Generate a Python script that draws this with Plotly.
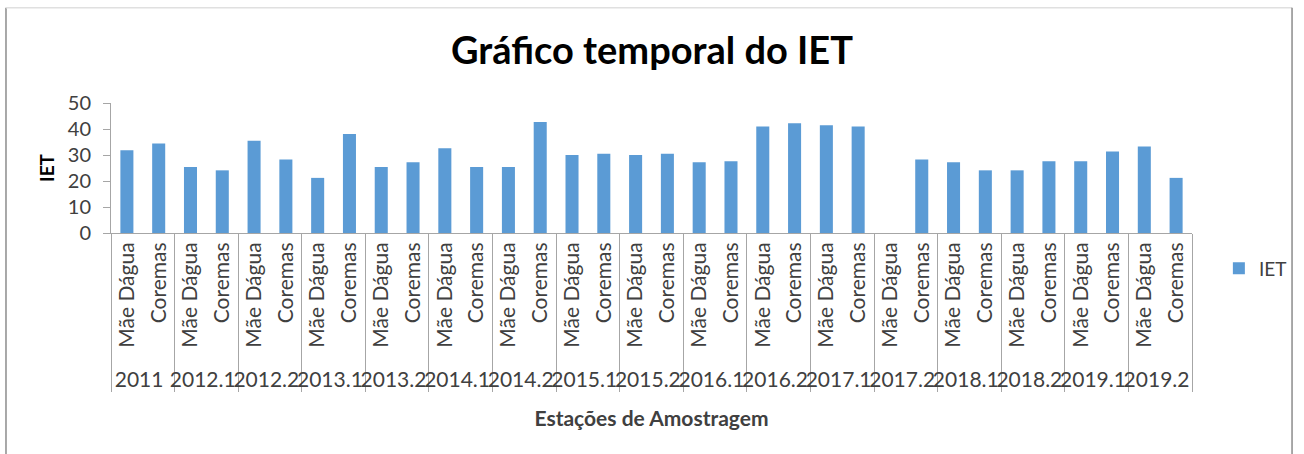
import plotly.graph_objects as go

periods = ["2011", "2012.1", "2012.2", "2013.1", "2013.2", "2014.1", "2014.2",
           "2015.1", "2015.2", "2016.1", "2016.2", "2017.1", "2017.2",
           "2018.1", "2018.2", "2019.1", "2019.2"]
stations = ["Mãe Dágua", "Coremas"]

mae_dagua = [31.8, 25.4, 35.5, 21.2, 25.4, 32.6, 25.4, 30.0, 30.0, 27.2,
             41.0, 41.4, None, 27.2, 24.1, 27.6, 33.3]
coremas = [34.4, 24.1, 28.3, 38.1, 27.2, 25.4, 42.7, 30.5, 30.5, 27.6,
           42.2, 41.0, 28.3, 24.1, 27.6, 31.3, 21.2]

x_outer, x_inner, values = [], [], []
for p, m, c in zip(periods, mae_dagua, coremas):
    x_outer += [p, p]
    x_inner += stations
    values += [m, c]

FONT = "Lato"
W, H = 1304, 454
L, R, T, B = 111, 1197, 103, 232.7


def px_x(px):
    return (px - L) / (R - L)


def px_y(py):
    return (B - py) / (B - T)


fig = go.Figure()
fig.add_trace(go.Bar(
    x=[x_outer, x_inner], y=values, name="IET",
    marker=dict(color="#5B9BD5", line=dict(width=0)),
    showlegend=True,
))

fig.update_layout(
    width=W, height=H,
    margin=dict(l=L, r=W - R, t=T, b=H - B, pad=0),
    paper_bgcolor="white", plot_bgcolor="white",
    font=dict(family=FONT, color="#404040", size=18),
    bargap=0.59,
    title=dict(text="<b>Gráfico temporal do IET</b>", x=0.5, xanchor="center",
               y=1 - 51 / H, yanchor="middle",
               font=dict(family=FONT, size=38, color="black")),
    showlegend=True,
    legend=dict(x=px_x(1224), y=px_y(268), xanchor="left", yanchor="middle",
                font=dict(size=19, color="#404040"), bgcolor="rgba(0,0,0,0)",
                itemwidth=30),
    xaxis=dict(
        type="multicategory", tickangle=-90,
        showline=True, linecolor="#A6A6A6", linewidth=1,
        showgrid=False, ticks="",
        dividercolor="#A6A6A6", dividerwidth=1,
        tickfont=dict(family=FONT, size=21, color="#404040"),
        title=dict(text="<b>Estações de Amostragem</b>", standoff=20,
                   font=dict(family=FONT, size=21, color="#404040")),
    ),
    yaxis=dict(
        range=[0, 50], dtick=10, showgrid=False, zeroline=False,
        showline=True, linecolor="#A6A6A6", linewidth=1,
        ticks="outside", ticklen=7, tickcolor="#A6A6A6",
        ticklabelstandoff=8,
        tickfont=dict(family=FONT, size=20, color="#404040"),
        title=dict(text="<b>IET</b>", standoff=8,
                   font=dict(family=FONT, size=19, color="black")),
    ),
    shapes=[
        dict(type="line", xref="paper", yref="paper",
             x0=px_x(5.5), x1=px_x(5.5), y0=px_y(8), y1=px_y(460),
             line=dict(color="#8C8C8C", width=1.5)),
        dict(type="line", xref="paper", yref="paper",
             x0=px_x(5.5), x1=px_x(1297.5), y0=px_y(8), y1=px_y(8),
             line=dict(color="#E0E0E0", width=1.5)),
        dict(type="line", xref="paper", yref="paper",
             x0=px_x(1297.5), x1=px_x(1297.5), y0=px_y(8), y1=px_y(460),
             line=dict(color="#8C8C8C", width=1.5)),
    ],
)

fig.write_html("out.html",
               config={"displayModeBar": False},
               post_script="document.body.style.margin='0';"
                           "document.body.style.overflow='hidden';")
